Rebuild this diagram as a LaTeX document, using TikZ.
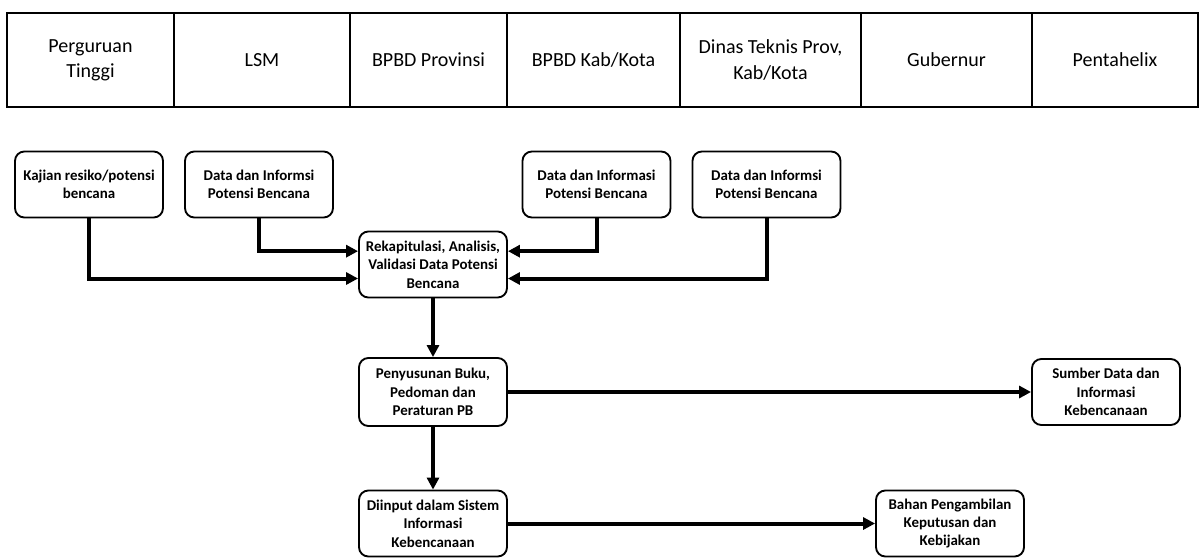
\documentclass[tikz,border=0pt]{standalone}
\usepackage{fontspec}
\setmainfont{Carlito}
\usetikzlibrary{arrows.meta}

\begin{document}
\begin{tikzpicture}[x=0.75pt,y=0.75pt,yscale=-1,xscale=1,
  cell/.style={draw, line width=1pt, minimum height=70.5pt, inner sep=0pt, align=center, font=\fontsize{15}{19}\selectfont},
  box/.style={draw, line width=1.4pt, rounded corners=7pt, minimum width=111pt, minimum height=49.5pt, inner sep=1pt, align=center, font=\bfseries\fontsize{11.2}{13.8}\selectfont},
  flow/.style={line width=3pt, -{Triangle[length=9pt,width=9pt]}}]
\useasboundingbox (0,0) rectangle (1201,557);

% Header row
\node [cell, minimum width=125.25pt] (hPT) at (90.5,60) {Perguruan\\Tinggi};
\node [cell, minimum width=132pt] (hLSM) at (262,60) {LSM};
\node [cell, minimum width=117.75pt] (hProv) at (428.5,60) {BPBD Provinsi};
\node [cell, minimum width=129.75pt] (hKab) at (593.5,60) {BPBD Kab/Kota};
\node [cell, minimum width=135.75pt] (hDinas) at (770.5,60) {Dinas Teknis Prov,\\Kab/Kota};
\node [cell, minimum width=128.25pt] (hGub) at (946.5,60) {Gubernur};
\node [cell, minimum width=124.5pt] (hPenta) at (1115,60) {Pentahelix};

% Input boxes
\node [box] (kajian) at (89,184.5) {Kajian resiko/potensi\\bencana};
\node [box] (dataLsm) at (259,184.5) {Data dan Informsi\\Potensi Bencana};
\node [box] (dataKab) at (596.5,184.5) {Data dan Informasi\\Potensi Bencana};
\node [box] (dataDinas) at (766.5,184.5) {Data dan Informsi\\Potensi Bencana};

% Process boxes
\node [box] (rekap) at (433,264.5) {Rekapitulasi, Analisis,\\Validasi Data Potensi\\Bencana};
\node [box, minimum height=51pt] (susun) at (433,392) {Penyusunan Buku,\\Pedoman dan\\Peraturan PB};
\node [box] (input) at (433,523.5) {Diinput dalam Sistem\\Informasi\\Kebencanaan};

% Output boxes
\node [box] (sumber) at (1106,392) {Sumber Data dan\\Informasi\\Kebencanaan};
\node [box] (bahan) at (950,523.5) {Bahan Pengambilan\\Keputusan dan\\Kebijakan};

% Connectors
\draw [flow] (dataLsm.south) |- ([yshift=-10pt]rekap.west);
\draw [flow] (kajian.south) |- ([yshift=10.5pt]rekap.west);
\draw [flow] (dataKab.south) |- ([yshift=-10pt]rekap.east);
\draw [flow] (dataDinas.south) |- ([yshift=10.5pt]rekap.east);
\draw [flow] (rekap) -- (susun);
\draw [flow] (susun) -- (input);
\draw [flow] (susun) -- (sumber);
\draw [flow] (input) -- (bahan);

\end{tikzpicture}
\end{document}
